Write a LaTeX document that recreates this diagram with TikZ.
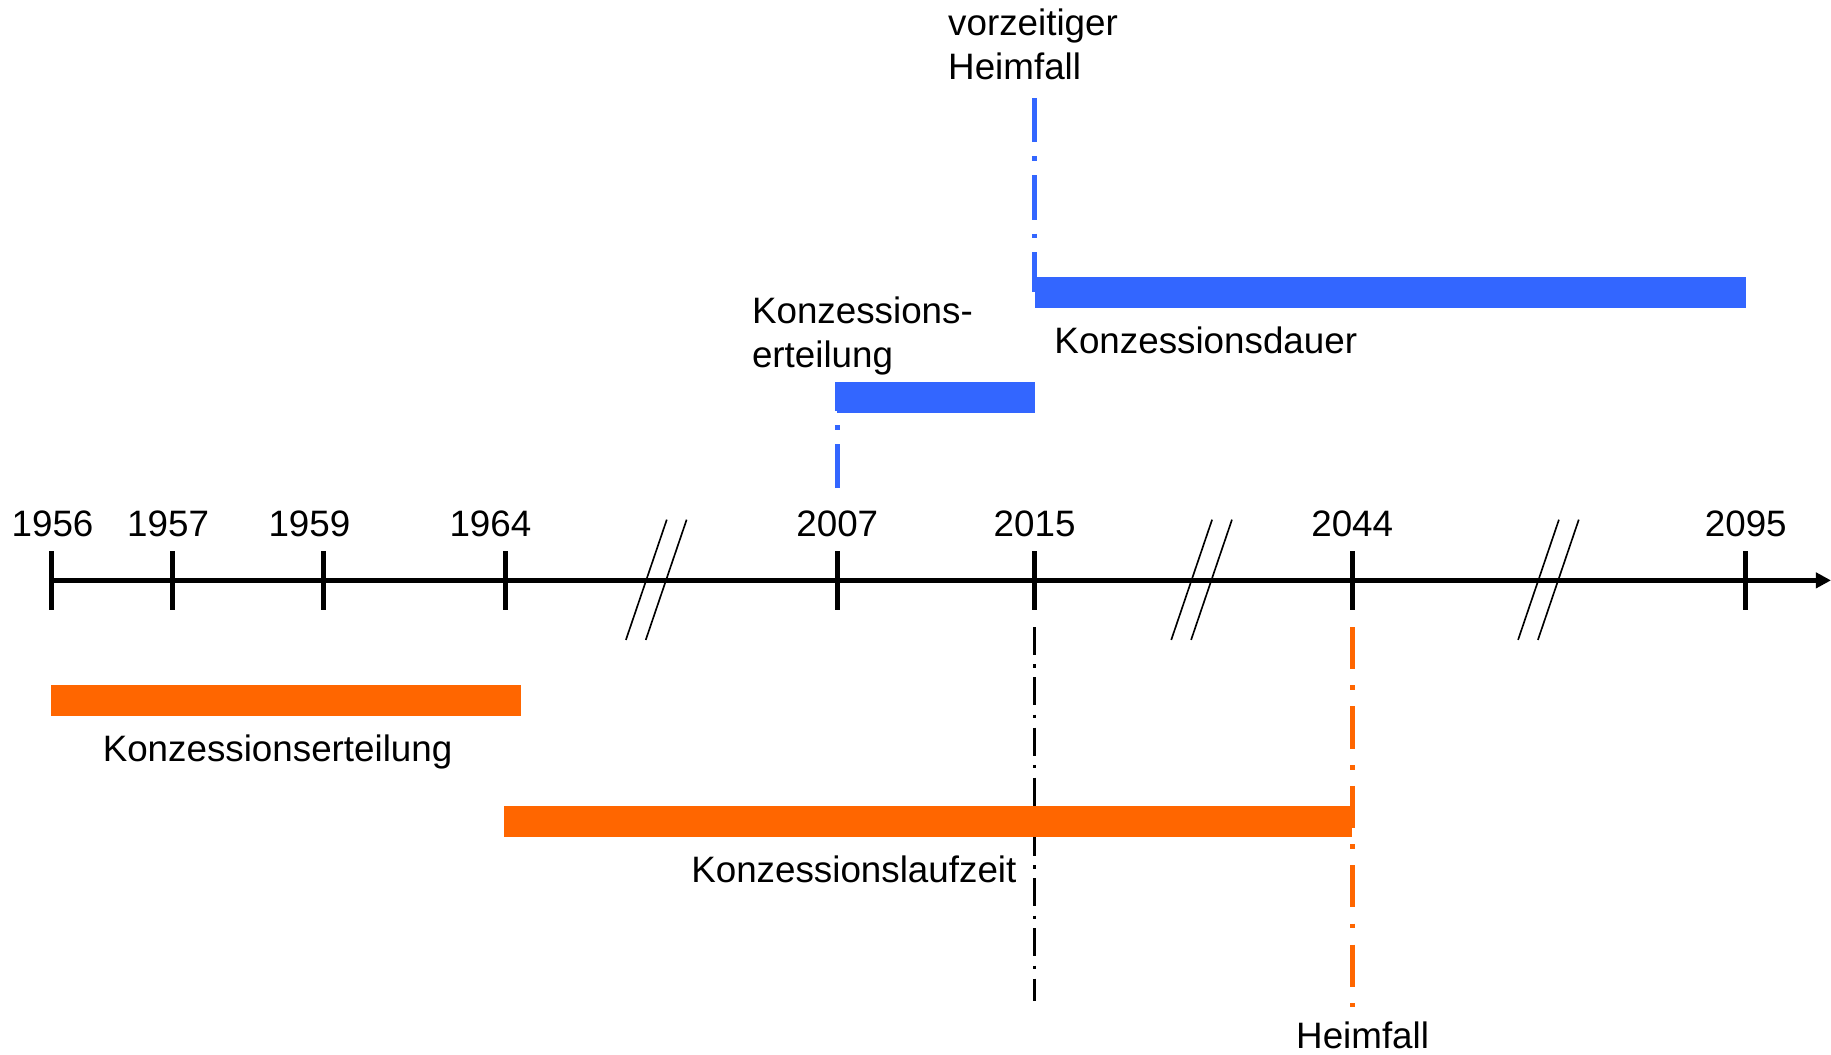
\documentclass[tikz,border=0pt]{standalone}
\usepackage{fontspec}
\setmainfont{Liberation Sans}
\usetikzlibrary{arrows.meta}
\definecolor{kblue}{RGB}{51,102,255}
\definecolor{korange}{RGB}{255,102,0}
\begin{document}
\begin{tikzpicture}[x=1pt,y=-1pt,
  lbl/.style={font=\fontsize{31.5}{38}\selectfont, inner sep=0pt, outer sep=0pt, text=black},
  yearlbl/.style={lbl, anchor=base},
  leftlbl/.style={lbl, anchor=base west},
  tickmark/.style={line width=4.5pt},
  breakmark/.style={line width=1.4pt},
  axisline/.style={line width=4.5pt, -{Triangle[length=13pt,width=13pt]}},
  barnode/.style={inner sep=0pt, outer sep=0pt, draw=none, anchor=north west, minimum height=27pt},
  bluedd/.style={kblue, line width=4.6pt, dash pattern=on 38pt off 12pt on 4pt off 12pt},
  orangedd/.style={korange, line width=4.3pt, dash pattern=on 36pt off 14pt on 4pt off 14pt},
  blackdd/.style={black, line width=3pt, dash pattern=on 24pt off 8pt on 3pt off 8pt}
]
\useasboundingbox (0,0) rectangle (1568,903);

% axis
\coordinate (ax0) at (44,497);
\coordinate (ax1) at (1568,497);
% break marks
\foreach \bx/\nm in {536/bA,1003/bB,1300/bC}{
  \coordinate (\nm1s) at (\bx,548);
  \coordinate (\nm1e) at ({\bx+35},445);
  \coordinate (\nm2s) at ({\bx+17},548);
  \coordinate (\nm2e) at ({\bx+52},445);
  \draw[breakmark] (\nm1s) -- (\nm1e);
  \draw[breakmark] (\nm2s) -- (\nm2e);
}
\draw[axisline] (ax0) -- (ax1);

% ticks and years
\foreach \tx/\lx/\yr in {44/45/1956,148/144/1957,277/265/1959,433/420/1964,717/717/2007,886/886/2015,1158/1158/2044,1495/1495/2095}{
  \coordinate (t\yr a) at (\tx,472);
  \coordinate (t\yr b) at (\tx,522);
  \draw[tickmark] (t\yr a) -- (t\yr b);
  \node[yearlbl] (y\yr) at (\lx,459) {\yr};
}

% vertical dash-dot lines
\coordinate (bl1a) at (717,418);
\coordinate (bl1b) at (717,327);
\draw[bluedd] (bl1a) -- (bl1b);
\coordinate (bl2a) at (886,84);
\coordinate (bl2b) at (886,250);
\draw[bluedd] (bl2a) -- (bl2b);
\coordinate (kl1) at (886,537);
\coordinate (kl2) at (886,857);
\draw[blackdd] (kl1) -- (kl2);
\coordinate (ol1) at (1158,537);
\coordinate (ol2) at (1158,862);
\draw[orangedd] (ol1) -- (ol2);

% blue bars
\node[barnode, fill=kblue, minimum width=169pt] (bb1) at (717,327) {};
\node[barnode, fill=kblue, minimum width=609pt] (bb2) at (886,237) {};
% orange bars
\node[barnode, fill=korange, minimum width=402pt, minimum height=26pt] (ob1) at (44,587) {};
\node[barnode, fill=korange, minimum width=726pt] (ob2) at (432,690) {};

% labels
\node[leftlbl] (vh1) at (812,30) {vorzeitiger};
\node[leftlbl] (vh2) at (812,68) {Heimfall};
\node[leftlbl] (ke1) at (644,277) {Konzessions-};
\node[leftlbl] (ke2) at (644,315) {erteilung};
\node[leftlbl] (kd) at (903,303) {Konzessionsdauer};
\node[leftlbl] (ker) at (88,652) {Konzessionserteilung};
\node[leftlbl] (klz) at (592,756) {Konzessionslaufzeit};
\node[leftlbl] (hf) at (1110,898) {Heimfall};
\end{tikzpicture}
\end{document}
